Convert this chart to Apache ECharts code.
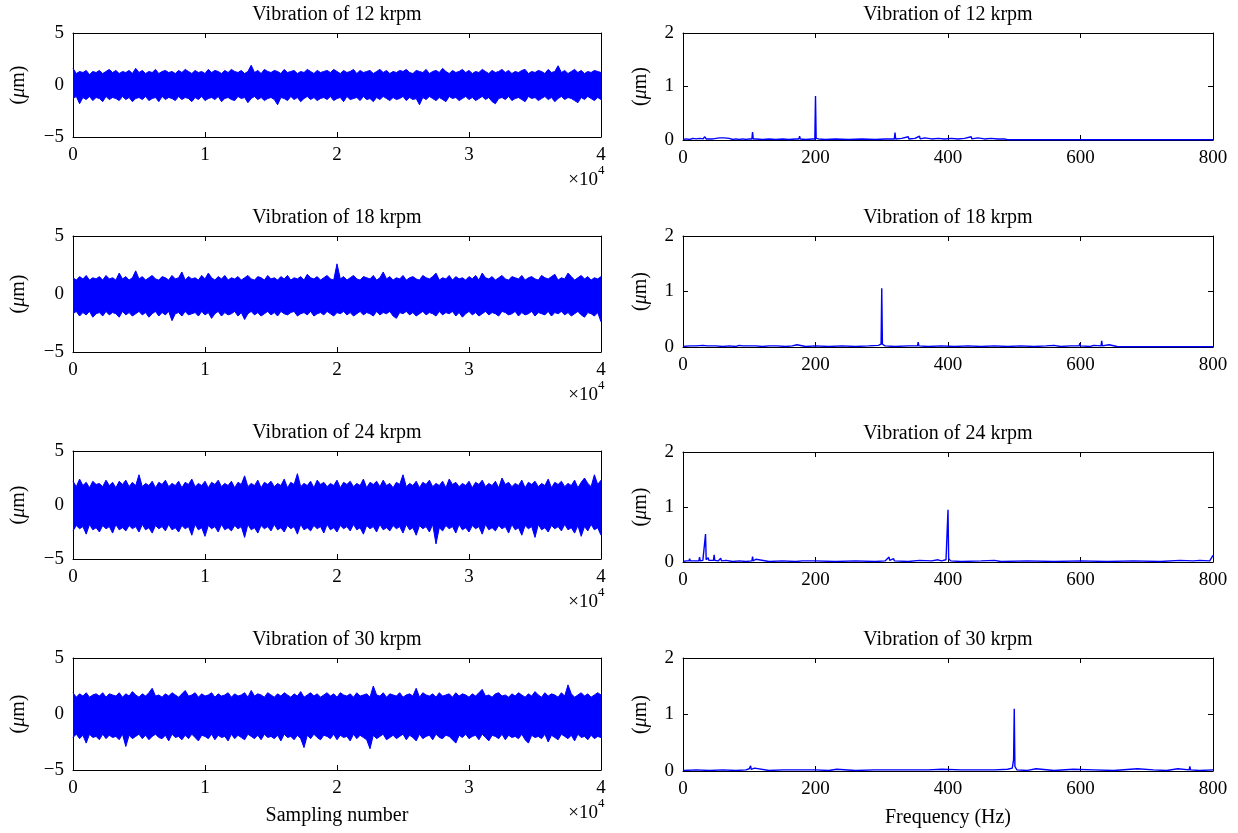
<!DOCTYPE html>
<html>
<head>
<meta charset="utf-8">
<script src="https://cdn.jsdelivr.net/npm/echarts/dist/echarts.min.js"></script>
<style>
html, body { margin: 0; padding: 0; background: #fff; }
#chart { width: 1238px; height: 833px; }
</style>
</head>
<body>
<div id="chart"></div>
<script>
// envelope of the time signals, read every 250 samples (upper / lower edge of the band)
const sampleStep = 250;

const up12 = [1.6,1.1,1.3,1.2,1.4,1.0,1.3,1.2,1.4,1.1,1.3,1.5,1.2,1.4,1.1,1.3,1.2,1.4,1.1,1.6,
  1.2,1.4,1.1,1.3,1.2,1.5,1.1,1.3,1.4,1.2,1.3,1.1,1.4,1.2,1.5,1.3,1.1,1.4,1.2,1.3,
  1.1,1.5,1.2,1.4,1.3,1.1,1.4,1.2,1.5,1.3,1.2,1.4,1.1,1.3,1.9,1.2,1.4,1.1,1.5,1.3,
  1.2,1.4,1.3,1.1,1.5,1.2,1.3,1.4,1.1,1.3,1.2,1.5,1.3,1.1,1.4,1.2,1.3,1.4,1.2,1.5,
  1.3,1.1,1.4,1.2,1.3,1.5,1.1,1.4,1.2,1.3,1.4,1.1,1.3,1.5,1.2,1.4,1.1,1.3,1.2,1.4,
  1.3,1.5,1.2,1.1,1.4,1.3,1.2,1.5,1.1,1.3,1.4,1.2,1.6,1.3,1.1,1.4,1.2,1.3,1.5,1.2,
  1.4,1.1,1.3,1.2,1.5,1.3,1.1,1.4,1.2,1.3,1.5,1.2,1.4,1.1,1.3,1.2,1.4,1.5,1.1,1.3,
  1.2,1.4,1.3,1.1,1.5,1.2,1.3,1.85,1.2,1.4,1.1,1.3,1.5,1.2,1.4,1.1,1.3,1.2,1.4,1.3,
  1.2];
const lo12 = [-1.3,-1.1,-1.8,-1.2,-1.4,-1.1,-1.5,-1.2,-1.3,-1.6,-1.1,-1.4,-1.2,-1.3,-1.5,-1.1,-1.4,-1.2,-1.6,-1.3,
  -1.2,-1.4,-1.1,-1.5,-1.3,-1.2,-1.6,-1.1,-1.4,-1.2,-1.3,-1.5,-1.1,-1.4,-1.2,-1.3,-1.6,-1.2,-1.4,-1.1,
  -1.5,-1.3,-1.2,-1.4,-1.1,-1.6,-1.3,-1.2,-1.4,-1.5,-1.1,-1.3,-1.2,-1.7,-1.3,-1.1,-1.4,-1.2,-1.5,-1.3,
  -1.2,-1.4,-1.9,-1.2,-1.3,-1.5,-1.1,-1.4,-1.2,-1.6,-1.3,-1.1,-1.4,-1.2,-1.5,-1.3,-1.2,-1.4,-1.1,-1.5,
  -1.3,-1.2,-1.6,-1.1,-1.4,-1.3,-1.2,-1.5,-1.1,-1.4,-1.3,-1.6,-1.2,-1.4,-1.1,-1.3,-1.5,-1.2,-1.4,-1.3,
  -1.1,-1.5,-1.2,-1.4,-1.3,-1.9,-1.2,-1.4,-1.1,-1.3,-1.5,-1.2,-1.4,-1.6,-1.1,-1.3,-1.2,-1.5,-1.3,-1.1,
  -1.4,-1.2,-1.5,-1.3,-1.1,-1.4,-1.2,-1.6,-1.8,-1.3,-1.2,-1.4,-1.1,-1.5,-1.3,-1.2,-1.4,-1.6,-1.1,-1.3,
  -1.2,-1.5,-1.3,-1.1,-1.4,-1.2,-1.6,-1.3,-1.1,-1.4,-1.2,-1.3,-1.5,-1.7,-1.2,-1.4,-1.1,-1.3,-1.5,-1.2,
  -1.4];

const up18 = [1.4,1.2,1.5,1.3,1.6,1.2,1.4,1.3,1.5,1.2,1.6,1.3,1.4,1.2,1.8,1.3,1.5,1.2,1.4,2.0,
  1.3,1.5,1.2,1.4,1.6,1.3,1.2,1.5,1.4,1.2,1.6,1.3,1.4,1.9,1.2,1.5,1.3,1.4,1.2,1.6,
  1.3,1.8,1.4,1.2,1.5,1.3,1.6,1.2,1.4,1.3,1.5,1.2,1.4,1.6,1.3,1.2,1.5,1.4,1.2,1.6,
  1.3,1.4,1.2,1.5,1.3,1.6,1.2,1.4,1.3,1.5,1.2,1.7,1.4,1.3,1.5,1.2,1.4,1.6,1.3,1.2,
  2.6,1.3,1.5,1.2,1.4,1.6,1.3,1.2,1.5,1.4,1.3,1.6,1.2,1.4,1.9,1.3,1.5,1.2,1.4,1.3,
  1.6,1.2,1.4,1.5,1.3,1.2,1.6,1.4,1.3,1.5,1.8,1.2,1.4,1.3,1.6,1.2,1.5,1.3,1.4,1.2,
  1.5,1.3,1.6,1.2,1.8,1.4,1.3,1.5,1.2,1.4,1.6,1.3,1.2,1.5,1.4,1.3,1.6,1.2,1.4,1.5,
  1.3,1.2,1.6,1.4,1.3,1.5,1.7,1.2,1.4,1.3,1.8,1.5,1.2,1.4,1.6,1.3,1.5,1.2,1.4,1.3,
  1.5];
const lo18 = [-1.7,-1.5,-1.9,-1.6,-1.8,-1.5,-2.0,-1.7,-1.6,-1.9,-1.5,-1.8,-1.6,-1.7,-2.0,-1.5,-1.8,-1.6,-1.9,-1.7,
  -1.5,-1.8,-1.6,-2.0,-1.7,-1.5,-1.9,-1.6,-1.8,-1.5,-2.3,-1.7,-1.6,-1.9,-1.5,-1.8,-1.7,-1.6,-1.9,-1.5,
  -1.8,-1.6,-2.1,-1.7,-1.5,-1.9,-1.6,-1.8,-1.7,-1.5,-1.9,-1.6,-2.2,-1.7,-1.5,-1.8,-1.6,-1.9,-1.7,-1.5,
  -1.8,-1.6,-1.9,-1.5,-1.7,-1.8,-1.6,-1.5,-1.9,-1.7,-1.6,-1.8,-1.5,-1.9,-1.7,-1.6,-1.8,-1.5,-1.7,-1.9,
  -1.6,-1.7,-1.5,-1.8,-1.6,-1.9,-1.7,-1.5,-1.8,-1.6,-1.7,-1.9,-1.5,-1.8,-1.6,-1.7,-1.5,-1.9,-2.1,-1.6,
  -1.7,-1.5,-1.8,-1.6,-1.9,-1.7,-1.5,-1.8,-1.6,-1.7,-1.9,-1.5,-1.8,-1.6,-1.7,-1.5,-1.9,-1.6,-2.0,-1.7,
  -1.5,-1.8,-1.6,-1.9,-1.7,-1.5,-1.8,-1.6,-1.7,-1.9,-1.5,-1.6,-1.8,-1.7,-1.5,-1.9,-1.6,-1.8,-1.7,-1.5,
  -1.9,-1.6,-1.7,-1.8,-1.5,-1.9,-1.6,-1.7,-1.5,-1.8,-1.6,-1.9,-1.7,-1.5,-1.8,-2.0,-1.6,-1.7,-1.9,-1.6,
  -2.4];

const up24 = [2.2,1.7,2.4,1.8,2.1,1.6,2.2,1.9,2.0,1.7,2.3,1.8,2.1,1.6,2.2,1.9,2.3,1.7,2.1,1.8,
  2.8,1.7,2.0,1.8,2.2,1.6,2.1,1.9,2.3,1.7,2.0,1.8,2.2,1.6,2.1,1.9,2.4,1.7,2.0,1.8,
  2.2,1.6,2.1,1.9,2.3,1.7,2.0,1.8,2.2,1.6,2.1,1.9,2.7,1.7,2.0,1.8,2.3,1.6,2.1,1.9,
  2.2,1.7,2.0,1.8,2.4,1.6,2.1,1.9,2.9,1.7,2.0,1.8,2.2,1.6,2.3,1.9,2.1,1.7,2.0,1.8,
  2.3,1.6,2.1,1.9,2.2,1.7,2.0,1.8,2.4,1.6,2.1,1.9,2.2,1.7,2.3,1.8,2.0,1.6,2.1,1.9,
  2.8,1.7,2.0,1.8,2.2,1.6,2.1,1.9,2.3,1.7,2.0,1.8,2.2,1.6,2.4,1.9,2.1,1.7,2.0,1.8,
  2.2,1.6,2.1,1.9,2.3,1.7,2.0,1.8,2.2,1.6,2.5,1.9,2.1,1.7,2.0,1.8,2.3,1.6,2.1,1.9,
  2.2,1.7,2.0,1.8,2.4,1.6,2.1,1.9,2.2,1.7,2.0,1.8,2.3,1.6,2.1,2.5,2.0,1.7,2.8,1.9,
  2.3];
const lo24 = [-2.4,-1.9,-2.2,-2.0,-2.7,-1.8,-2.3,-2.1,-2.5,-1.9,-2.2,-2.0,-2.6,-1.8,-2.3,-2.1,-2.4,-1.9,-2.2,-2.0,
  -2.5,-1.8,-2.3,-2.1,-2.6,-1.9,-2.2,-2.0,-2.4,-1.8,-2.3,-2.1,-2.5,-1.9,-2.2,-2.0,-2.8,-1.8,-2.3,-2.1,
  -2.9,-1.9,-2.2,-2.0,-2.5,-1.8,-2.3,-2.1,-2.4,-1.9,-2.2,-2.0,-3.0,-1.8,-2.3,-2.1,-2.6,-1.9,-2.2,-2.0,
  -2.4,-1.8,-2.3,-2.1,-2.5,-1.9,-2.2,-2.0,-2.7,-1.8,-2.3,-2.1,-2.4,-1.9,-2.2,-2.0,-2.6,-1.8,-2.3,-2.1,
  -2.5,-1.9,-2.2,-2.0,-2.4,-1.8,-2.3,-2.1,-2.7,-1.9,-2.2,-2.0,-2.5,-1.8,-2.3,-2.1,-2.4,-1.9,-2.2,-2.0,
  -2.6,-1.8,-2.3,-2.1,-2.8,-1.9,-2.2,-2.0,-2.5,-1.8,-3.6,-2.1,-2.4,-1.9,-2.2,-2.0,-2.6,-1.8,-2.3,-2.1,
  -2.5,-1.9,-2.2,-2.0,-2.7,-1.8,-2.3,-2.1,-2.4,-1.9,-2.2,-2.0,-2.6,-1.8,-2.3,-2.1,-2.8,-1.9,-2.2,-2.0,
  -3.0,-1.8,-2.3,-2.1,-2.5,-1.9,-2.2,-2.0,-2.4,-1.8,-2.3,-2.1,-2.6,-1.9,-2.9,-2.0,-2.4,-1.8,-2.3,-2.1,
  -2.8];

const up30 = [1.9,1.5,1.8,1.6,1.9,1.5,1.7,1.8,1.6,1.9,1.5,1.8,1.7,1.6,1.9,1.5,1.8,1.6,2.0,1.7,
  1.5,1.8,1.6,1.9,2.3,1.6,1.7,1.5,1.8,1.6,1.9,1.7,1.5,1.8,2.1,1.6,1.7,1.9,1.5,1.8,
  1.6,1.7,1.9,1.5,1.8,1.6,1.7,1.9,1.5,1.8,1.6,1.7,1.9,1.5,2.1,1.6,1.8,1.7,1.5,1.9,
  1.7,1.5,1.8,1.6,1.9,1.7,1.5,1.8,1.6,2.0,1.5,1.7,1.9,1.6,1.8,1.5,1.7,1.9,1.6,1.8,
  1.5,1.9,1.7,1.6,1.8,1.5,1.9,1.6,1.7,1.8,1.5,2.5,1.7,1.6,1.9,1.5,1.8,1.7,1.6,1.9,
  1.5,1.7,1.8,1.6,2.3,1.5,1.9,1.7,1.6,1.8,1.5,1.9,1.6,1.7,1.8,1.5,1.9,1.6,1.8,1.7,
  1.5,1.8,1.6,1.9,2.2,1.6,1.7,1.5,1.8,1.9,1.6,1.7,1.5,1.8,1.6,1.9,1.7,1.5,1.8,1.6,
  2.0,1.7,1.5,1.9,1.6,1.8,1.7,1.5,1.9,1.6,2.6,1.8,1.5,1.7,1.9,1.6,1.8,1.5,1.7,1.9,
  1.7];
const lo30 = [-2.1,-1.8,-2.2,-1.9,-2.6,-1.8,-2.1,-2.0,-2.3,-1.8,-2.2,-1.9,-2.1,-2.0,-2.3,-1.8,-2.9,-1.9,-2.2,-2.0,
  -1.8,-2.2,-1.9,-2.3,-2.0,-1.8,-2.1,-2.2,-1.9,-2.4,-1.8,-2.1,-2.0,-2.3,-1.9,-2.2,-1.8,-2.1,-2.4,-1.9,
  -2.0,-2.2,-1.8,-2.3,-1.9,-2.1,-2.0,-2.4,-1.8,-2.2,-1.9,-2.1,-2.3,-1.8,-2.0,-2.2,-1.9,-2.3,-1.8,-2.1,
  -2.0,-2.2,-1.9,-2.4,-1.8,-2.1,-2.0,-2.3,-1.9,-2.2,-3.0,-1.9,-2.2,-1.8,-2.1,-2.3,-1.9,-2.0,-2.2,-1.8,
  -2.3,-1.9,-2.1,-2.0,-2.4,-1.8,-2.2,-1.9,-2.1,-2.3,-3.1,-1.9,-2.2,-2.0,-1.8,-2.3,-2.1,-1.9,-2.2,-2.0,
  -1.8,-2.3,-1.9,-2.1,-2.4,-1.8,-2.2,-2.0,-1.9,-2.3,-1.8,-2.1,-2.2,-1.9,-2.0,-2.3,-2.6,-1.9,-2.1,-1.8,
  -2.2,-2.0,-1.9,-2.3,-1.8,-2.1,-2.4,-1.9,-2.0,-2.2,-1.8,-2.3,-1.9,-2.1,-2.0,-2.2,-1.8,-2.3,-2.6,-1.9,
  -2.1,-2.0,-2.2,-1.8,-2.5,-1.9,-2.1,-2.3,-1.8,-2.0,-2.2,-1.9,-2.4,-1.8,-2.1,-2.0,-2.3,-1.9,-2.2,-2.0,
  -2.1];

// spectra: [frequency Hz, amplitude um]
const spec12 = [[0,0.01],[5,0.02],[10,0.01],[15,0.03],[20,0.02],[25,0.03],[30,0.02],[33,0.06],[35,0.02],[37,0.05],
  [40,0.02],[42,0.05],[45,0.02],[50,0.03],[55,0.04],[58,0.02],[62,0.04],[65,0.02],[70,0.03],[75,0.01],
  [80,0.02],[85,0.01],[90,0.02],[95,0.01],[100,0.02],[104,0.02],[105,0.15],[106,0.02],[110,0.02],[120,0.01],
  [130,0.02],[140,0.01],[150,0.02],[160,0.01],[170,0.02],[175,0.02],[176,0.07],[177,0.02],[185,0.01],[195,0.02],
  [199,0.02],[200,0.82],[201,0.03],[205,0.02],[215,0.01],[230,0.02],[250,0.01],[270,0.02],[290,0.01],[305,0.02],
  [315,0.02],[319,0.02],[320,0.14],[321,0.02],[330,0.03],[340,0.06],[341,0.02],[350,0.03],[357,0.07],[358,0.02],
  [365,0.04],[375,0.02],[385,0.03],[395,0.02],[405,0.03],[415,0.02],[425,0.03],[435,0.06],[436,0.02],[445,0.04],
  [455,0.02],[465,0.03],[475,0.02],[485,0.02],[490,0.005],[600,0.005],[700,0.005],[800,0.005]];

const spec18 = [[0,0.01],[10,0.02],[20,0.02],[30,0.03],[37,0.02],[38,0.05],[39,0.02],[50,0.02],[60,0.01],[70,0.02],
  [80,0.01],[85,0.03],[90,0.02],[100,0.02],[110,0.02],[120,0.01],[130,0.02],[142,0.02],[143,0.05],[144,0.02],
  [155,0.01],[165,0.02],[172,0.04],[173,0.02],[185,0.01],[200,0.02],[220,0.01],[240,0.02],[260,0.01],[280,0.02],
  [295,0.03],[299,0.05],[300,1.06],[301,0.05],[305,0.02],[320,0.01],[340,0.02],[354,0.02],[355,0.09],[356,0.02],
  [370,0.01],[390,0.02],[410,0.01],[430,0.02],[450,0.01],[470,0.02],[490,0.01],[510,0.02],[530,0.01],[548,0.02],
  [549,0.04],[550,0.02],[560,0.03],[570,0.01],[585,0.02],[598,0.02],[599,0.07],[600,0.02],[615,0.01],[620,0.03],
  [631,0.02],[632,0.11],[633,0.02],[643,0.04],[644,0.02],[655,0.01],[660,0.005],[700,0.005],[800,0.005]];

const spec24 = [[0,0.01],[5,0.02],[9,0.02],[10,0.06],[11,0.02],[18,0.02],[24,0.02],[25,0.09],[26,0.02],[30,0.03],
  [33,0.04],[34,0.51],[35,0.04],[37,0.03],[38,0.08],[39,0.03],[46,0.03],[47,0.13],[48,0.03],[53,0.02],
  [57,0.07],[58,0.02],[65,0.03],[75,0.01],[85,0.02],[95,0.01],[104,0.02],[105,0.1],[106,0.02],[110,0.05],
  [111,0.02],[130,0.01],[150,0.02],[170,0.01],[180,0.02],[181,0.04],[182,0.01],[200,0.02],[230,0.01],[260,0.02],
  [290,0.01],[305,0.02],[311,0.09],[312,0.03],[318,0.06],[319,0.02],[340,0.01],[357,0.03],[360,0.01],[375,0.02],
  [385,0.04],[390,0.02],[397,0.04],[399,0.07],[400,0.95],[401,0.06],[404,0.02],[420,0.01],[450,0.02],[470,0.03],
  [480,0.01],[520,0.02],[560,0.01],[600,0.02],[640,0.01],[680,0.02],[720,0.01],[750,0.03],[770,0.02],[780,0.03],
  [795,0.02],[800,0.12]];

const spec30 = [[0,0.01],[20,0.02],[40,0.01],[60,0.02],[80,0.01],[95,0.02],[100,0.04],[102,0.09],[103,0.03],[108,0.05],
  [109,0.02],[130,0.01],[150,0.02],[171,0.02],[172,0.04],[173,0.01],[200,0.02],[220,0.01],[232,0.03],[234,0.04],
  [235,0.02],[260,0.01],[289,0.02],[290,0.03],[291,0.01],[320,0.02],[341,0.02],[342,0.04],[343,0.01],[370,0.02],
  [391,0.03],[392,0.01],[420,0.02],[450,0.02],[470,0.02],[490,0.03],[497,0.05],[499,0.2],[500,1.1],[501,0.08],
  [504,0.02],[520,0.01],[533,0.04],[534,0.02],[560,0.01],[589,0.03],[590,0.04],[591,0.01],[620,0.02],[650,0.01],
  [686,0.04],[687,0.01],[710,0.02],[730,0.01],[747,0.04],[748,0.01],[764,0.02],[765,0.08],[766,0.02],[780,0.01],
  [800,0.02]];

const speedTitles = ['Vibration of 12 krpm', 'Vibration of 18 krpm', 'Vibration of 24 krpm', 'Vibration of 30 krpm'];
const upperEnvelopes = [up12, up18, up24, up30];
const lowerEnvelopes = [lo12, lo18, lo24, lo30];
const spectra = [spec12, spec18, spec24, spec30];

const timeTicks = [0, 40000, 10000];   // min, max, interval
const timeRange = [-5, 5, 5];
const freqTicks = [0, 800, 200];
const ampRange = [0, 2, 1];

// layout: [top, height] of each row
const leftRows = [[33, 104], [236, 116], [451, 108], [658, 112]];
const rightRows = [[33, 107], [236, 111], [452, 110], [658, 113]];
const leftX = [73, 528];
const rightX = [683, 530];

const FONT = 'Liberation Serif';
const BLUE = '#0000ff';

function toPairs(values) {
  return values.map((v, i) => [i * sampleStep, v]);
}

function minusSign(v) {
  return String(v).replace('-', '\u2212');
}

const grids = [], xAxes = [], yAxes = [], series = [], titles = [];

function addPanel(k, left, width, top, height, xr, yr, xFmt, yNameGap, xName, xNameGap) {
  grids.push({ left: left, top: top, width: width, height: height, show: false, containLabel: false, outerBoundsMode: 'none' });
  const line = { show: true, onZero: false, lineStyle: { color: '#000', width: 1 } };
  const tick = { show: true, inside: true, length: 5, lineStyle: { color: '#000', width: 1 } };
  const label = { color: '#000', fontFamily: FONT, fontSize: 19, margin: 9 };
  xAxes.push({
    type: 'value', gridIndex: k, position: 'bottom', min: xr[0], max: xr[1], interval: xr[2],
    axisLine: line, axisTick: tick, splitLine: { show: false },
    axisLabel: Object.assign({ formatter: xFmt }, label),
    name: xName || '', nameLocation: 'middle', nameGap: xNameGap || 30,
    nameTextStyle: { color: '#000', fontFamily: FONT, fontSize: 20 }
  });
  xAxes.push({
    type: 'value', gridIndex: k, position: 'top', min: xr[0], max: xr[1], interval: xr[2],
    axisLine: line, axisTick: tick, splitLine: { show: false }, axisLabel: { show: false }
  });
  yAxes.push({
    type: 'value', gridIndex: k, position: 'left', min: yr[0], max: yr[1], interval: yr[2],
    axisLine: line, axisTick: tick, splitLine: { show: false },
    axisLabel: Object.assign({ formatter: minusSign }, label),
    name: '({it|\u03bc}m)', nameLocation: 'middle', nameRotate: 90, nameGap: yNameGap,
    nameTextStyle: {
      color: '#000', fontFamily: FONT, fontSize: 20,
      rich: { it: { fontStyle: 'italic', fontFamily: FONT, fontSize: 20, color: '#000' } }
    }
  });
  yAxes.push({
    type: 'value', gridIndex: k, position: 'right', min: yr[0], max: yr[1], interval: yr[2],
    axisLine: line, axisTick: tick, splitLine: { show: false }, axisLabel: { show: false }
  });
}

for (let r = 0; r < 4; r++) {
  const last = r === 3;
  // time signal, left column
  const kl = r * 2;
  const [lt, lh] = leftRows[r];
  addPanel(kl, leftX[0], leftX[1], lt, lh, timeTicks, timeRange, v => String(v / 10000), 44,
    last ? 'Sampling number' : '', 36);
  [upperEnvelopes[r], lowerEnvelopes[r]].forEach(env => {
    series.push({
      type: 'line', xAxisIndex: kl * 2, yAxisIndex: kl * 2, data: toPairs(env),
      showSymbol: false, symbol: 'none', smooth: false, sampling: 'none',
      lineStyle: { color: BLUE, width: 1 },
      areaStyle: { color: BLUE, opacity: 1, origin: 'auto' }
    });
  });
  titles.push({ text: speedTitles[r], left: leftX[0] + leftX[1] / 2, top: lt - 28, textAlign: 'center', padding: 0,
    textStyle: { fontFamily: FONT, fontSize: 20, fontWeight: 'normal', color: '#000' } });
  titles.push({ text: '\u00d710', right: 1238 - 598, top: lt + lh + 34, padding: 0,
    textStyle: { fontFamily: FONT, fontSize: 19, fontWeight: 'normal', color: '#000' } });
  titles.push({ text: '4', left: 598, top: lt + lh + 27, padding: 0,
    textStyle: { fontFamily: FONT, fontSize: 13, fontWeight: 'normal', color: '#000' } });

  // spectrum, right column
  const kr = r * 2 + 1;
  const [rt, rh] = rightRows[r];
  addPanel(kr, rightX[0], rightX[1], rt, rh, freqTicks, ampRange, v => String(v), 32,
    last ? 'Frequency (Hz)' : '', 37);
  series.push({
    type: 'line', xAxisIndex: kr * 2, yAxisIndex: kr * 2, data: spectra[r],
    showSymbol: false, symbol: 'none', smooth: false,
    lineStyle: { color: BLUE, width: 1.4 }
  });
  titles.push({ text: speedTitles[r], left: rightX[0] + rightX[1] / 2, top: rt - 28, textAlign: 'center', padding: 0,
    textStyle: { fontFamily: FONT, fontSize: 20, fontWeight: 'normal', color: '#000' } });
}

const chart = echarts.init(document.getElementById('chart'), null, { renderer: 'canvas' });
chart.setOption({
  backgroundColor: '#fff',
  animation: false,
  title: titles,
  grid: grids,
  xAxis: xAxes,
  yAxis: yAxes,
  series: series
});
</script>
</body>
</html>
